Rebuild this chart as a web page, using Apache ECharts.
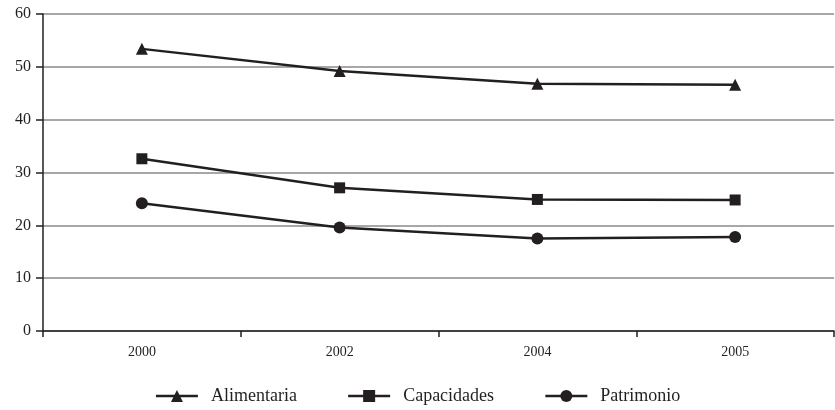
<!DOCTYPE html>
<html><head><meta charset="utf-8">
<script src="https://cdn.jsdelivr.net/npm/echarts@6/dist/echarts.min.js"></script>
<style>html,body{margin:0;padding:0;background:#fff}#c{width:835px;height:410px}</style>
</head><body><div id="c"></div>
<script>
const categories = ['2000', '2002', '2004', '2005'];
const alimentaria = [53.4, 49.2, 46.8, 46.6];
const capacidades = [32.6, 27.1, 24.9, 24.8];
const patrimonio = [24.2, 19.6, 17.5, 17.8];
const yTicks = [0, 10, 20, 30, 40, 50, 60];

const font = '"Liberation Serif", "DejaVu Serif", serif';
const ink = '#231f20';
function mk(name, data, symbol, size) {
  return {
    name, type: 'line', data, symbol, symbolSize: size,
    lineStyle: { color: ink, width: 2.5 },
    itemStyle: { color: ink },
    emphasis: { disabled: true }
  };
}
const chart = echarts.init(document.getElementById('c'));
chart.setOption({
  animation: false,
  textStyle: { fontFamily: font },
  grid: { left: 43, right: 1, top: 14, bottom: 79 },
  xAxis: {
    type: 'category', data: categories, boundaryGap: true,
    axisLine: { lineStyle: { color: ink, width: 1.5 } },
    axisTick: { show: true, length: 6, lineStyle: { color: ink, width: 1.5 } },
    axisLabel: { color: ink, fontSize: 14, fontFamily: font, margin: 14 },
    splitLine: { show: false }
  },
  yAxis: {
    type: 'value', min: yTicks[0], max: yTicks[yTicks.length - 1], interval: 10,
    axisLine: { show: true, lineStyle: { color: ink, width: 1.5 } },
    axisTick: { show: true, length: 7, lineStyle: { color: ink, width: 1.5 } },
    axisLabel: { color: ink, fontSize: 16, fontFamily: font, margin: 12 },
    splitLine: { show: true, lineStyle: { color: '#8a8a8a', width: 1.5 } }
  },
  legend: {
    bottom: 0, left: 'center', itemWidth: 42, itemHeight: 15, itemGap: 50,
    lineStyle: { width: 2.5 },
    textStyle: { color: ink, fontSize: 18, fontFamily: font, padding: [0, 0, 0, 8] },
    data: ['Alimentaria', 'Capacidades', 'Patrimonio']
  },
  series: [
    mk('Alimentaria', alimentaria, 'triangle', 12),
    mk('Capacidades', capacidades, 'rect', 11),
    mk('Patrimonio', patrimonio, 'circle', 12)
  ]
});
</script></body></html>
